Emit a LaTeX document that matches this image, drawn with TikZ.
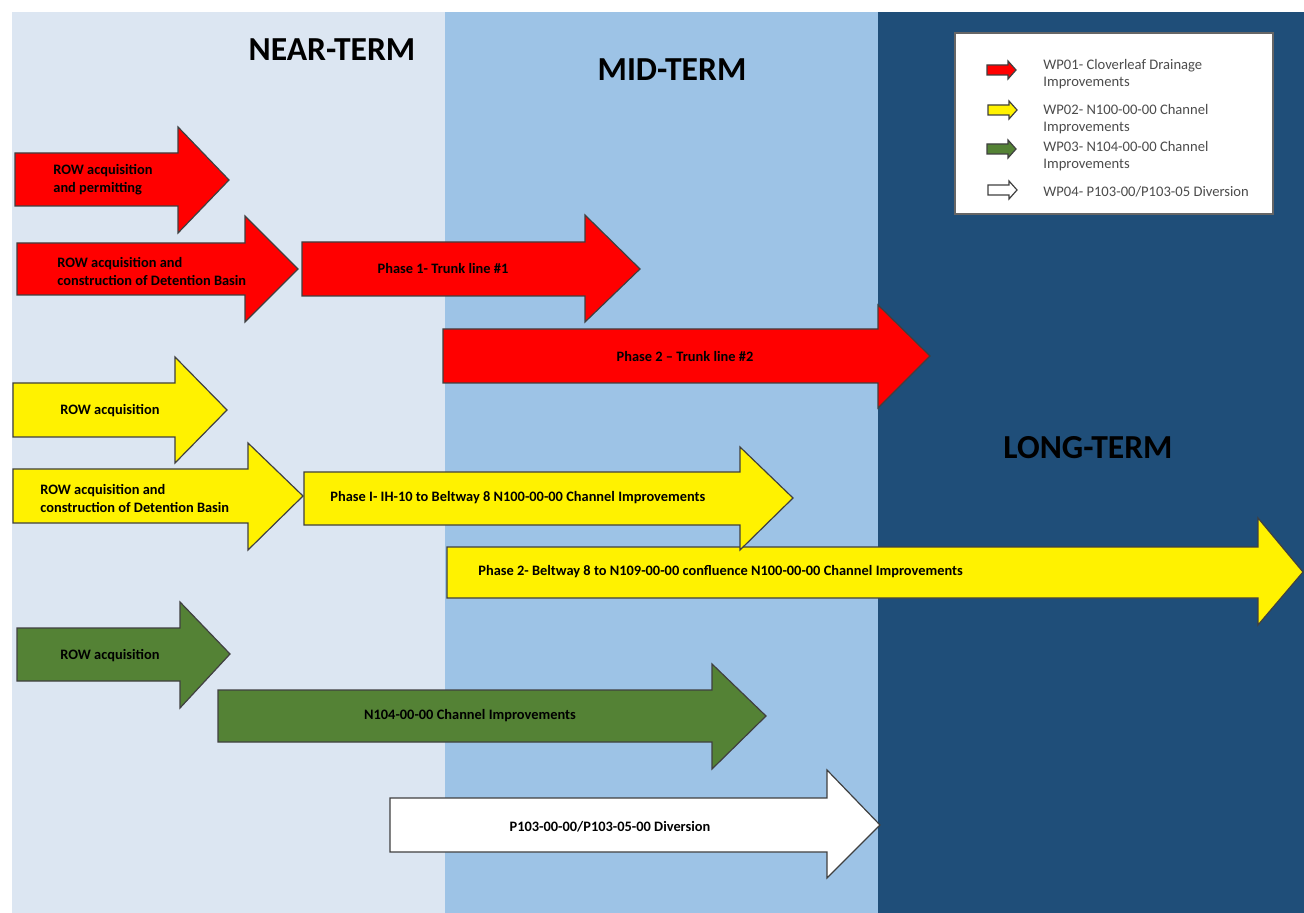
\documentclass[tikz,border=0pt]{standalone}
\usepackage{fontspec}
\setmainfont{Carlito}
\usepackage{xcolor}
\definecolor{nearbg}{RGB}{220,230,242}
\definecolor{midbg}{RGB}{157,195,230}
\definecolor{longbg}{RGB}{31,78,121}
\definecolor{wpgreen}{RGB}{84,130,53}

\begin{document}
\begin{tikzpicture}[x=0.5pt, y=-0.5pt,
  blk/.style={draw=black!75, line width=0.6pt, line join=miter},
  redarrow/.style={blk, fill=red},
  yelarrow/.style={blk, fill=yellow},
  grnarrow/.style={blk, fill=wpgreen},
  whtarrow/.style={blk, fill=white},
  termlabel/.style={font=\fontsize{16.8}{20}\selectfont\bfseries, text=black},
  arrowtext/.style={font=\fontsize{7.2}{9}\selectfont\bfseries, text=black, inner sep=0pt},
  legtext/.style={font=\fontsize{7.3}{8.8}\selectfont, text=black!70, inner sep=0pt, anchor=west, align=left}]
  \useasboundingbox (0,0) rectangle (1304,913);
  \fill[white] (0,0) rectangle (1304,913);
  % time bands
  \fill[nearbg] (12,12) rectangle (445,913);
  \fill[midbg] (445,12) rectangle (878,913);
  \fill[longbg] (878,12) rectangle (1304,913);
  \node[termlabel] (near) at (332,50) {NEAR-TERM};
  \node[termlabel] (mid) at (672,70) {MID-TERM};
  \node[termlabel] (long) at (1088,448) {LONG-TERM};
  % WP01
  \draw[redarrow] (15,153) -- (178,153) -- (178,127) -- (229,180) -- (178,233) -- (178,206) -- (15,206) -- cycle;
  \draw[redarrow] (17,243) -- (245,243) -- (245,216) -- (298,269) -- (245,322) -- (245,295) -- (17,295) -- cycle;
  \draw[redarrow] (302,242) -- (585,242) -- (585,215) -- (640,269) -- (585,322) -- (585,296) -- (302,296) -- cycle;
  \draw[redarrow] (443,329) -- (878,329) -- (878,305) -- (930,356) -- (878,408) -- (878,383) -- (443,383) -- cycle;
  \node[arrowtext, anchor=west, align=left] (r1) at (53,180) {ROW acquisition\\and permitting};
  \node[arrowtext, anchor=west, align=left] (r2) at (57,271) {ROW acquisition and\\construction of Detention Basin};
  \node[arrowtext] (r3) at (443,269) {Phase 1- Trunk line \#1};
  \node[arrowtext] (r4) at (685,357) {Phase 2 -- Trunk line \#2};
  % WP02
  \draw[yelarrow] (13,383) -- (175,383) -- (175,357) -- (227,410) -- (175,463) -- (175,437) -- (13,437) -- cycle;
  \draw[yelarrow] (13,469) -- (248,469) -- (248,443) -- (303,496) -- (248,550) -- (248,523) -- (13,523) -- cycle;
  \draw[yelarrow] (447,547) -- (1258,547) -- (1258,518) -- (1303,572) -- (1258,625) -- (1258,598) -- (447,598) -- cycle;
  \draw[yelarrow] (304,472) -- (740,472) -- (740,447) -- (793,498) -- (740,550) -- (740,525) -- (304,525) -- cycle;
  \node[arrowtext, anchor=west] (y1) at (60,411) {ROW acquisition};
  \node[arrowtext, anchor=west, align=left] (y2) at (40,498) {ROW acquisition and\\construction of Detention Basin};
  \node[arrowtext, anchor=west] (y3) at (330,498) {Phase I- IH-10 to Beltway 8 N100-00-00 Channel Improvements};
  \node[arrowtext, anchor=west] (y4) at (478,572) {Phase 2- Beltway 8 to N109-00-00 confluence N100-00-00 Channel Improvements};
  % WP03
  \draw[grnarrow] (17,628) -- (180,628) -- (180,602) -- (230,654) -- (180,708) -- (180,681) -- (17,681) -- cycle;
  \draw[grnarrow] (218,690) -- (712,690) -- (712,664) -- (766,716) -- (712,769) -- (712,742) -- (218,742) -- cycle;
  \node[arrowtext, anchor=west] (g1) at (60,656) {ROW acquisition};
  \node[arrowtext] (g2) at (470,716) {N104-00-00 Channel Improvements};
  % WP04
  \draw[whtarrow] (390,798) -- (827,798) -- (827,770) -- (880,825) -- (827,878) -- (827,852) -- (390,852) -- cycle;
  \node[arrowtext] (w1) at (610,827) {P103-00-00/P103-05-00 Diversion};
  % legend
  \draw[fill=white, draw=black!60, line width=0.6pt] (955,33) rectangle (1273,214);
  \draw[redarrow] (987,65) -- (1008,65) -- (1008,61) -- (1016,70) -- (1008,79) -- (1008,75) -- (987,75) -- cycle;
  \draw[yelarrow] (988,105) -- (1009,105) -- (1009,101) -- (1017,110) -- (1009,119) -- (1009,115) -- (988,115) -- cycle;
  \draw[grnarrow] (987,144) -- (1008,144) -- (1008,140) -- (1016,149) -- (1008,158) -- (1008,154) -- (987,154) -- cycle;
  \draw[whtarrow] (988,185) -- (1009,185) -- (1009,181) -- (1017,190) -- (1009,199) -- (1009,195) -- (988,195) -- cycle;
  \node[legtext] (l1) at (1043,74) {WP01- Cloverleaf Drainage\\Improvements};
  \node[legtext] (l2) at (1043,119) {WP02- N100-00-00 Channel\\Improvements};
  \node[legtext] (l3) at (1043,156) {WP03- N104-00-00 Channel\\Improvements};
  \node[legtext] (l4) at (1043,192) {WP04- P103-00/P103-05 Diversion};
\end{tikzpicture}
\end{document}
